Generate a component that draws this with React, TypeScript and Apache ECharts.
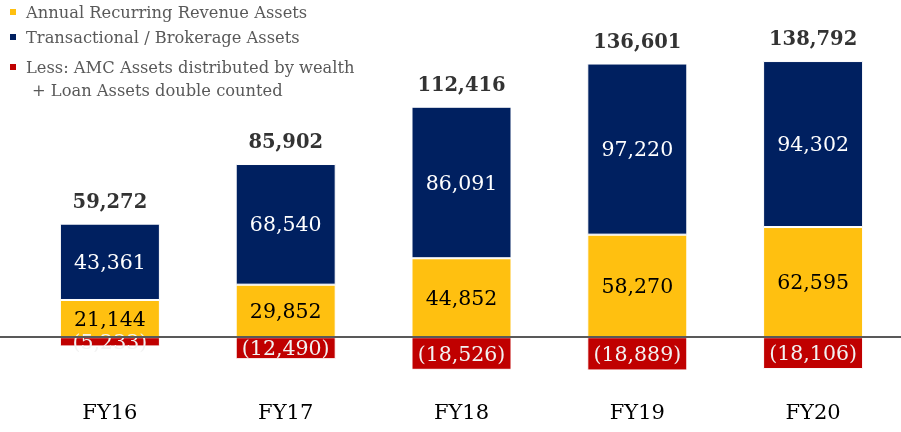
import React, { useEffect, useRef } from "react";
import * as echarts from "echarts";

const categories = ["FY16", "FY17", "FY18", "FY19", "FY20"];
const annualRecurring = [21144, 29852, 44852, 58270, 62595];
const transactional = [43361, 68540, 86091, 97220, 94302];
const lessDoubleCounted = [-5233, -12490, -18526, -18889, -18106];
const netTotals = [59272, 85902, 112416, 136601, 138792];

const nameAnnual = "Annual Recurring Revenue Assets";
const nameTrans = "Transactional / Brokerage Assets";
const nameLess = "Less: AMC Assets distributed by wealth";
const nameLessLine2 = "+ Loan Assets double counted";

const FONT = "DejaVu Serif";
const fmt = (v: number) => Math.abs(v).toLocaleString("en-US");

const legendText = { fontFamily: FONT, fontSize: 16.3, color: "#595959", lineHeight: 20, padding: [0, 0, 0, 4] };

const mkLegend = (name: string, top: number) => ({
  orient: "vertical",
  left: 3,
  top,
  itemWidth: 8,
  itemHeight: 8,
  icon: "rect",
  data: [name],
  textStyle: legendText,
});

export default function App() {
  const ref = useRef<HTMLDivElement>(null);
  useEffect(() => {
    if (!ref.current) return;
    const chart = echarts.init(ref.current, undefined, { renderer: "svg" });
    const gridTop = 38;
    const gridHeight = 352;
    const yMin = -30000;
    const yMax = 170000;
    const barTops = annualRecurring.map((v, i) => v + transactional[i]);
    chart.setOption({
      animation: false,
      textStyle: { fontFamily: FONT },
      legend: [mkLegend(nameAnnual, -3), mkLegend(nameTrans, 22), mkLegend(nameLess, 52)],
      graphic: [
        {
          type: "text",
          left: 32,
          top: 82,
          style: { text: nameLessLine2, font: `16.3px "${FONT}"`, fill: "#595959" },
        },
      ],
      grid: [
        { left: 22, width: 884, top: gridTop, height: gridHeight },
        { left: 0, right: 0, top: gridTop, height: gridHeight },
      ],
      xAxis: [
        {
          type: "category",
          data: categories,
          gridIndex: 0,
          axisLine: { show: false, onZero: false },
          axisTick: { show: false },
          axisLabel: { fontFamily: FONT, fontSize: 21, color: "#000", margin: 11 },
        },
        {
          type: "category",
          data: categories,
          gridIndex: 1,
          z: 10,
          axisLine: { show: true, onZero: true, lineStyle: { color: "#595959", width: 2 } },
          axisTick: { show: false },
          axisLabel: { show: false },
        },
      ],
      yAxis: [
        { type: "value", gridIndex: 0, min: yMin, max: yMax, show: false, splitLine: { show: false } },
        { type: "value", gridIndex: 1, min: yMin, max: yMax, show: false, splitLine: { show: false } },
      ],
      series: [
        {
          name: nameAnnual,
          type: "bar",
          stack: "a",
          barWidth: 100,
          data: annualRecurring,
          itemStyle: { color: "#FFC010", borderColor: "#fff", borderWidth: 1 },
          label: {
            show: true,
            position: "inside",
            formatter: (p: any) => fmt(p.value),
            fontFamily: FONT,
            fontSize: 20.5,
            color: "#000",
          },
        },
        {
          name: nameTrans,
          type: "bar",
          stack: "a",
          barWidth: 100,
          data: transactional,
          itemStyle: { color: "#002060", borderColor: "#fff", borderWidth: 1 },
          label: {
            show: true,
            position: "inside",
            formatter: (p: any) => fmt(p.value),
            fontFamily: FONT,
            fontSize: 20.5,
            color: "#fff",
          },
        },
        {
          name: nameLess,
          type: "bar",
          stack: "a",
          barWidth: 100,
          data: lessDoubleCounted,
          itemStyle: { color: "#C00000", borderColor: "#fff", borderWidth: 1 },
          label: {
            show: true,
            position: "inside",
            formatter: (p: any) => "(" + fmt(p.value) + ")",
            fontFamily: FONT,
            fontSize: 20.5,
            color: "#F2F2F2",
          },
        },
        {
          name: "Total",
          type: "line",
          data: barTops.map((v, i) => ({ value: v, total: netTotals[i] })),
          symbol: "circle",
          symbolSize: 1,
          itemStyle: { color: "rgba(0,0,0,0)" },
          lineStyle: { opacity: 0 },
          z: 5,
          label: {
            show: true,
            position: "top",
            distance: 12,
            formatter: (p: any) => fmt(p.data.total),
            fontFamily: FONT,
            fontWeight: "bold",
            fontSize: 19.5,
            color: "#333333",
          },
        },
      ],
    });
    return () => chart.dispose();
  }, []);
  return <div ref={ref} style={{ position: "fixed", left: 0, top: 0, width: 901, height: 432 }} />;
}
